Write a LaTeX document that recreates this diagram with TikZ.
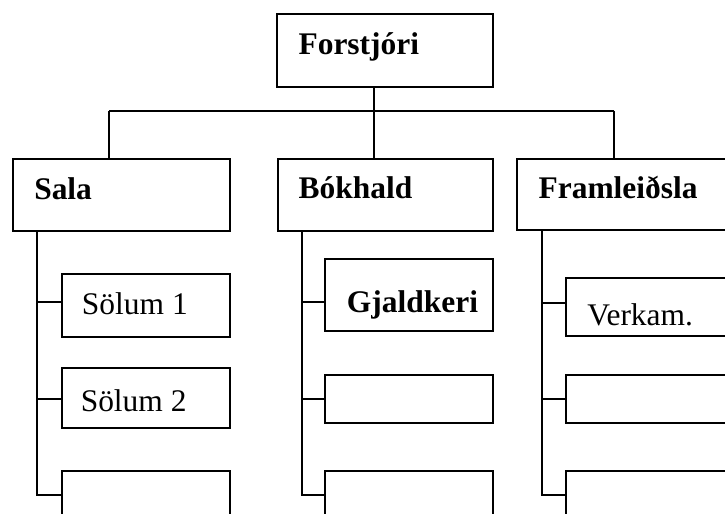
\documentclass[tikz,border=0pt]{standalone}
\usepackage{fontspec}
\setmainfont{Liberation Serif}
\usetikzlibrary{fit}
\tikzset{
  unitbox/.style={draw, line width=1.5pt, inner sep=0pt, rectangle},
  boxtext/.style={anchor=base west, inner sep=0pt, font=\fontsize{23.6}{28}\selectfont},
  headtext/.style={boxtext, font=\fontsize{23.6}{28}\selectfont\bfseries},
  link/.style={line width=1.3pt},
}
\begin{document}
\begin{tikzpicture}[x=0.75pt,y=-0.75pt]
\useasboundingbox (0,0) rectangle (725,514);
\clip (0,0) rectangle (725,514);

% top level
\node[unitbox, fit={(277,14.3) (493.3,86.5)}] (boss) {};
\node[headtext] (bossT) at (298.3,54.3) {Forstjóri};

% departments
\node[unitbox, fit={(13.3,159) (230,230.7)}] (sala) {};
\node[headtext] (salaT) at (34,199.5) {Sala};
\node[unitbox, fit={(278,159) (493.3,230.5)}] (bok) {};
\node[headtext] (bokT) at (298.3,198.3) {Bókhald};
\node[unitbox, fit={(517.3,159.3) (745,230)}] (fram) {};
\node[headtext] (framT) at (538.3,198.3) {Framleiðsla};

% sales staff
\node[unitbox, fit={(61.7,274) (230,337.3)}] (s1) {};
\node[boxtext] (s1T) at (81.7,314) {Sölum 1};
\node[unitbox, fit={(61.7,368) (230,428.3)}] (s2) {};
\node[boxtext] (s2T) at (80.5,411.7) {Sölum 2};
\node[unitbox, fit={(61.7,470.7) (230,540)}] (s3) {};

% accounting staff
\node[unitbox, fit={(325,259.3) (493.3,331)}] (b1) {};
\node[headtext] (b1T) at (346.7,312.7) {Gjaldkeri};
\node[unitbox, fit={(325,375) (493.3,422.7)}] (b2) {};
\node[unitbox, fit={(325,470.7) (493.3,540)}] (b3) {};

% production staff
\node[unitbox, fit={(565.7,278.3) (745,335.7)}] (f1) {};
\node[boxtext] (f1T) at (587,325) {Verkam.};
\node[unitbox, fit={(565.7,375) (745,422.7)}] (f2) {};
\node[unitbox, fit={(565.7,470.7) (745,540)}] (f3) {};

% bus between the top box and the departments
\coordinate (jS) at (109.3,110.7);
\coordinate (jB) at (374,110.7);
\coordinate (jF) at (614.3,110.7);
\draw[link] (jS) -- (jF);
\draw[link] (jB |- boss.south) -- (jB);
\draw[link] (jS) -- (jS |- sala.north);
\draw[link] (jB) -- (jB |- bok.north);
\draw[link] (jF) -- (jF |- fram.north);

% spines down to the staff boxes
\coordinate (sx) at (36.7,0);
\coordinate (bx) at (301.7,0);
\coordinate (fx) at (541.7,0);
\coordinate (cs1) at (61.7,302.3);
\coordinate (cs2) at (61.7,399);
\coordinate (cs3) at (61.7,495);
\coordinate (cb1) at (325,302.3);
\coordinate (cb2) at (325,399);
\coordinate (cb3) at (325,495);
\coordinate (cf1) at (565.7,303.3);
\coordinate (cf2) at (565.7,399);
\coordinate (cf3) at (565.7,495);

\draw[link] (sx |- sala.south) -- (sx |- cs3) -- (cs3);
\draw[link] (sx |- cs1) -- (cs1);
\draw[link] (sx |- cs2) -- (cs2);

\draw[link] (bx |- bok.south) -- (bx |- cb3) -- (cb3);
\draw[link] (bx |- cb1) -- (cb1);
\draw[link] (bx |- cb2) -- (cb2);

\draw[link] (fx |- fram.south) -- (fx |- cf3) -- (cf3);
\draw[link] (fx |- cf1) -- (cf1);
\draw[link] (fx |- cf2) -- (cf2);
\end{tikzpicture}
\end{document}
